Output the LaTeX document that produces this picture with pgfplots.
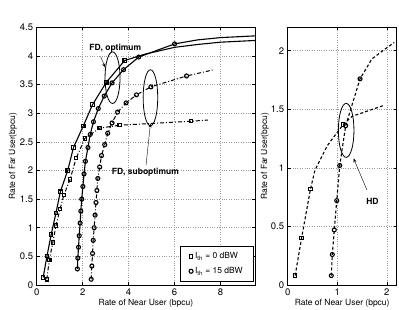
\documentclass[border=0pt]{standalone}
\usepackage{fontspec}
\setmainfont{TeX Gyre Heros}
\usepackage{pgfplots}
\pgfplotsset{compat=1.18}
\usetikzlibrary{arrows.meta}
\begin{document}
\begin{tikzpicture}
\pgfplotsset{
 base/.style={scale only axis, anchor=south west, height=257.7pt,
  grid=major, major grid style={dotted, gray!80, line width=0.5pt},
  axis line style={line width=0.6pt}, tick style={black, line width=0.5pt}, major tick length=3pt,
  tick label style={font=\fontsize{9.5}{10}\selectfont},
  label style={font=\fontsize{8.5}{10}\selectfont},
  /pgf/number format/assume math mode=true,
  /pgf/number format/fixed,
  xlabel={Rate of Near User (bpcu)}, ylabel={Rate of Far User(bpcu)},
 },
 opt/.style={black, line width=1.1pt, solid, mark options={solid, line width=1.1pt, fill=none}},
 sub/.style={black, line width=1.0pt, dash pattern=on 4pt off 2pt on 1pt off 2pt, mark options={solid, line width=1.1pt, fill=none}},
 hd/.style={black, line width=1.1pt, dash pattern=on 3pt off 2.2pt, mark options={solid, line width=1.1pt, fill=none}},
 sq/.style={mark=square, mark size=1.7pt},
 ci/.style={mark=o, mark size=2.0pt},
}
% ---------------- left axis
\begin{axis}[base, at={(36.7pt,25pt)}, width=218.3pt,
  xmin=0, xmax=9.5, ymin=0, ymax=4.5,
  xtick={0,2,4,6,8}, ytick={0,0.5,1,1.5,2,2.5,3,3.5,4,4.5},
  xlabel style={at={(axis description cs:0.5,0)}, anchor=center, yshift=-18pt},
  ylabel style={at={(axis description cs:-0.109,0.5)}, anchor=center},
  legend style={at={(axis description cs:0.995,0.012)}, anchor=south east, draw=black, line width=0.6pt,
    font=\fontsize{8.5}{9}\selectfont, row sep=3pt, inner xsep=9pt, inner ysep=4.5pt,
    /tikz/every even column/.append style={column sep=5pt}},
  legend cell align=left,
]
\addlegendimage{only marks, mark=square, mark size=1.7pt, line width=1.1pt}
\addlegendentry{I\textsubscript{th} = 0 dBW}
\addlegendimage{only marks, mark=o, mark size=2.0pt, line width=1.1pt}
\addlegendentry{I\textsubscript{th} = 15 dBW}
% FD optimum, Ith = 0 dBW
\addplot[opt, sq, mark indices={1,...,11}, forget plot] coordinates {
(0.28,0.13)(0.45,0.51)(0.63,0.88)(0.84,1.26)(1.03,1.63)(1.35,2.0)(1.6,2.4)(2.03,2.78)(2.43,3.15)(3.03,3.54)(3.83,3.92)
(4.7,4.03)(6.0,4.15)(7.0,4.20)(8.0,4.24)(9.5,4.27)};
% FD suboptimum, Ith = 0 dBW
\addplot[sub, sq, mark indices={1,...,12}, forget plot] coordinates {
(0.44,0.10)(0.55,0.44)(0.70,0.74)(0.84,1.04)(1.02,1.33)(1.18,1.57)(1.45,1.84)(1.72,2.22)(2.1,2.56)(2.74,2.74)(3.61,2.79)(6.72,2.86)(7.45,2.88)};
% FD optimum, Ith = 15 dBW
\addplot[opt, ci, mark indices={1,...,19}, forget plot] coordinates {
(1.77,0.28)(1.79,0.47)(1.82,0.66)(1.85,0.86)(1.89,1.08)(1.92,1.29)(1.96,1.50)(2.01,1.72)(2.06,1.94)(2.12,2.16)(2.23,2.40)(2.33,2.63)(2.47,2.85)(2.68,3.08)(2.94,3.30)(3.28,3.53)(3.78,3.76)(4.44,3.98)(6.0,4.21)
(7.0,4.28)(8.0,4.32)(9.5,4.35)};
% FD suboptimum, Ith = 15 dBW
\addplot[sub, ci, mark indices={1,...,19}, forget plot] coordinates {
(2.37,0.10)(2.40,0.33)(2.43,0.55)(2.46,0.78)(2.50,1.0)(2.54,1.22)(2.58,1.44)(2.62,1.65)(2.66,1.86)(2.74,2.06)(2.82,2.26)(2.96,2.45)(3.09,2.65)(3.28,2.83)(3.52,3.02)(3.89,3.18)(4.34,3.32)(4.97,3.46)(6.52,3.65)(7.72,3.76)};
\draw[line width=0.8pt] (axis cs:3.30,3.62) ellipse [x radius=7.5pt, y radius=25.8pt];
\draw[line width=0.8pt] (axis cs:4.95,3.27) ellipse [x radius=7.3pt, y radius=28pt];
\node[font=\fontsize{8.5}{10}\selectfont\bfseries] at (axis cs:3.42,4.14) {FD, optimum};
\node[font=\fontsize{8.5}{10}\selectfont\bfseries] at (axis cs:4.73,1.97) {FD, suboptimum};
\draw[line width=0.4pt, -{Stealth[length=4pt,width=3pt]}] (axis cs:2.78,3.99) -- (axis cs:2.98,3.80);
\draw[line width=0.4pt, -{Stealth[length=4pt,width=3pt]}] (axis cs:4.76,2.10) -- (axis cs:4.95,2.82);
\end{axis}
% ---------------- right axis
\begin{axis}[base, at={(287.7pt,25pt)}, width=109pt,
  xmin=0, xmax=2.2, ymin=0, ymax=2.2,
  xtick={0,1,2}, ytick={0,0.5,1,1.5,2},
  xlabel style={at={(axis description cs:0.5,0)}, anchor=center, yshift=-18pt},
  ylabel style={at={(axis description cs:-0.208,0.5)}, anchor=center},
]
% HD, Ith = 0 dBW
\addplot[hd, sq, mark indices={1,2,3,6}] coordinates {
(0.15,0.08)(0.28,0.40)(0.46,0.82)(0.55,0.98)(0.80,1.19)(1.12,1.37)(1.30,1.44)(1.92,1.53)};
% HD, Ith = 15 dBW
\addplot[hd, ci, mark indices={1,...,7}] coordinates {
(0.88,0.08)(0.90,0.26)(0.94,0.47)(0.99,0.72)(1.05,1.02)(1.17,1.36)(1.46,1.76)(1.70,1.93)(1.95,2.01)(2.15,2.07)};
\draw[line width=0.8pt] (axis cs:1.18,1.32) ellipse [x radius=7.8pt, y radius=27pt];
\node[font=\fontsize{8.5}{10}\selectfont\bfseries] at (axis cs:1.71,0.71) {HD};
\draw[line width=0.4pt, -{Stealth[length=4pt,width=3pt]}] (axis cs:1.60,0.81) -- (axis cs:1.33,1.08);
\end{axis}
\pgfresetboundingbox
\path (0pt,0pt) rectangle (399pt,310pt);
\end{tikzpicture}
\end{document}
